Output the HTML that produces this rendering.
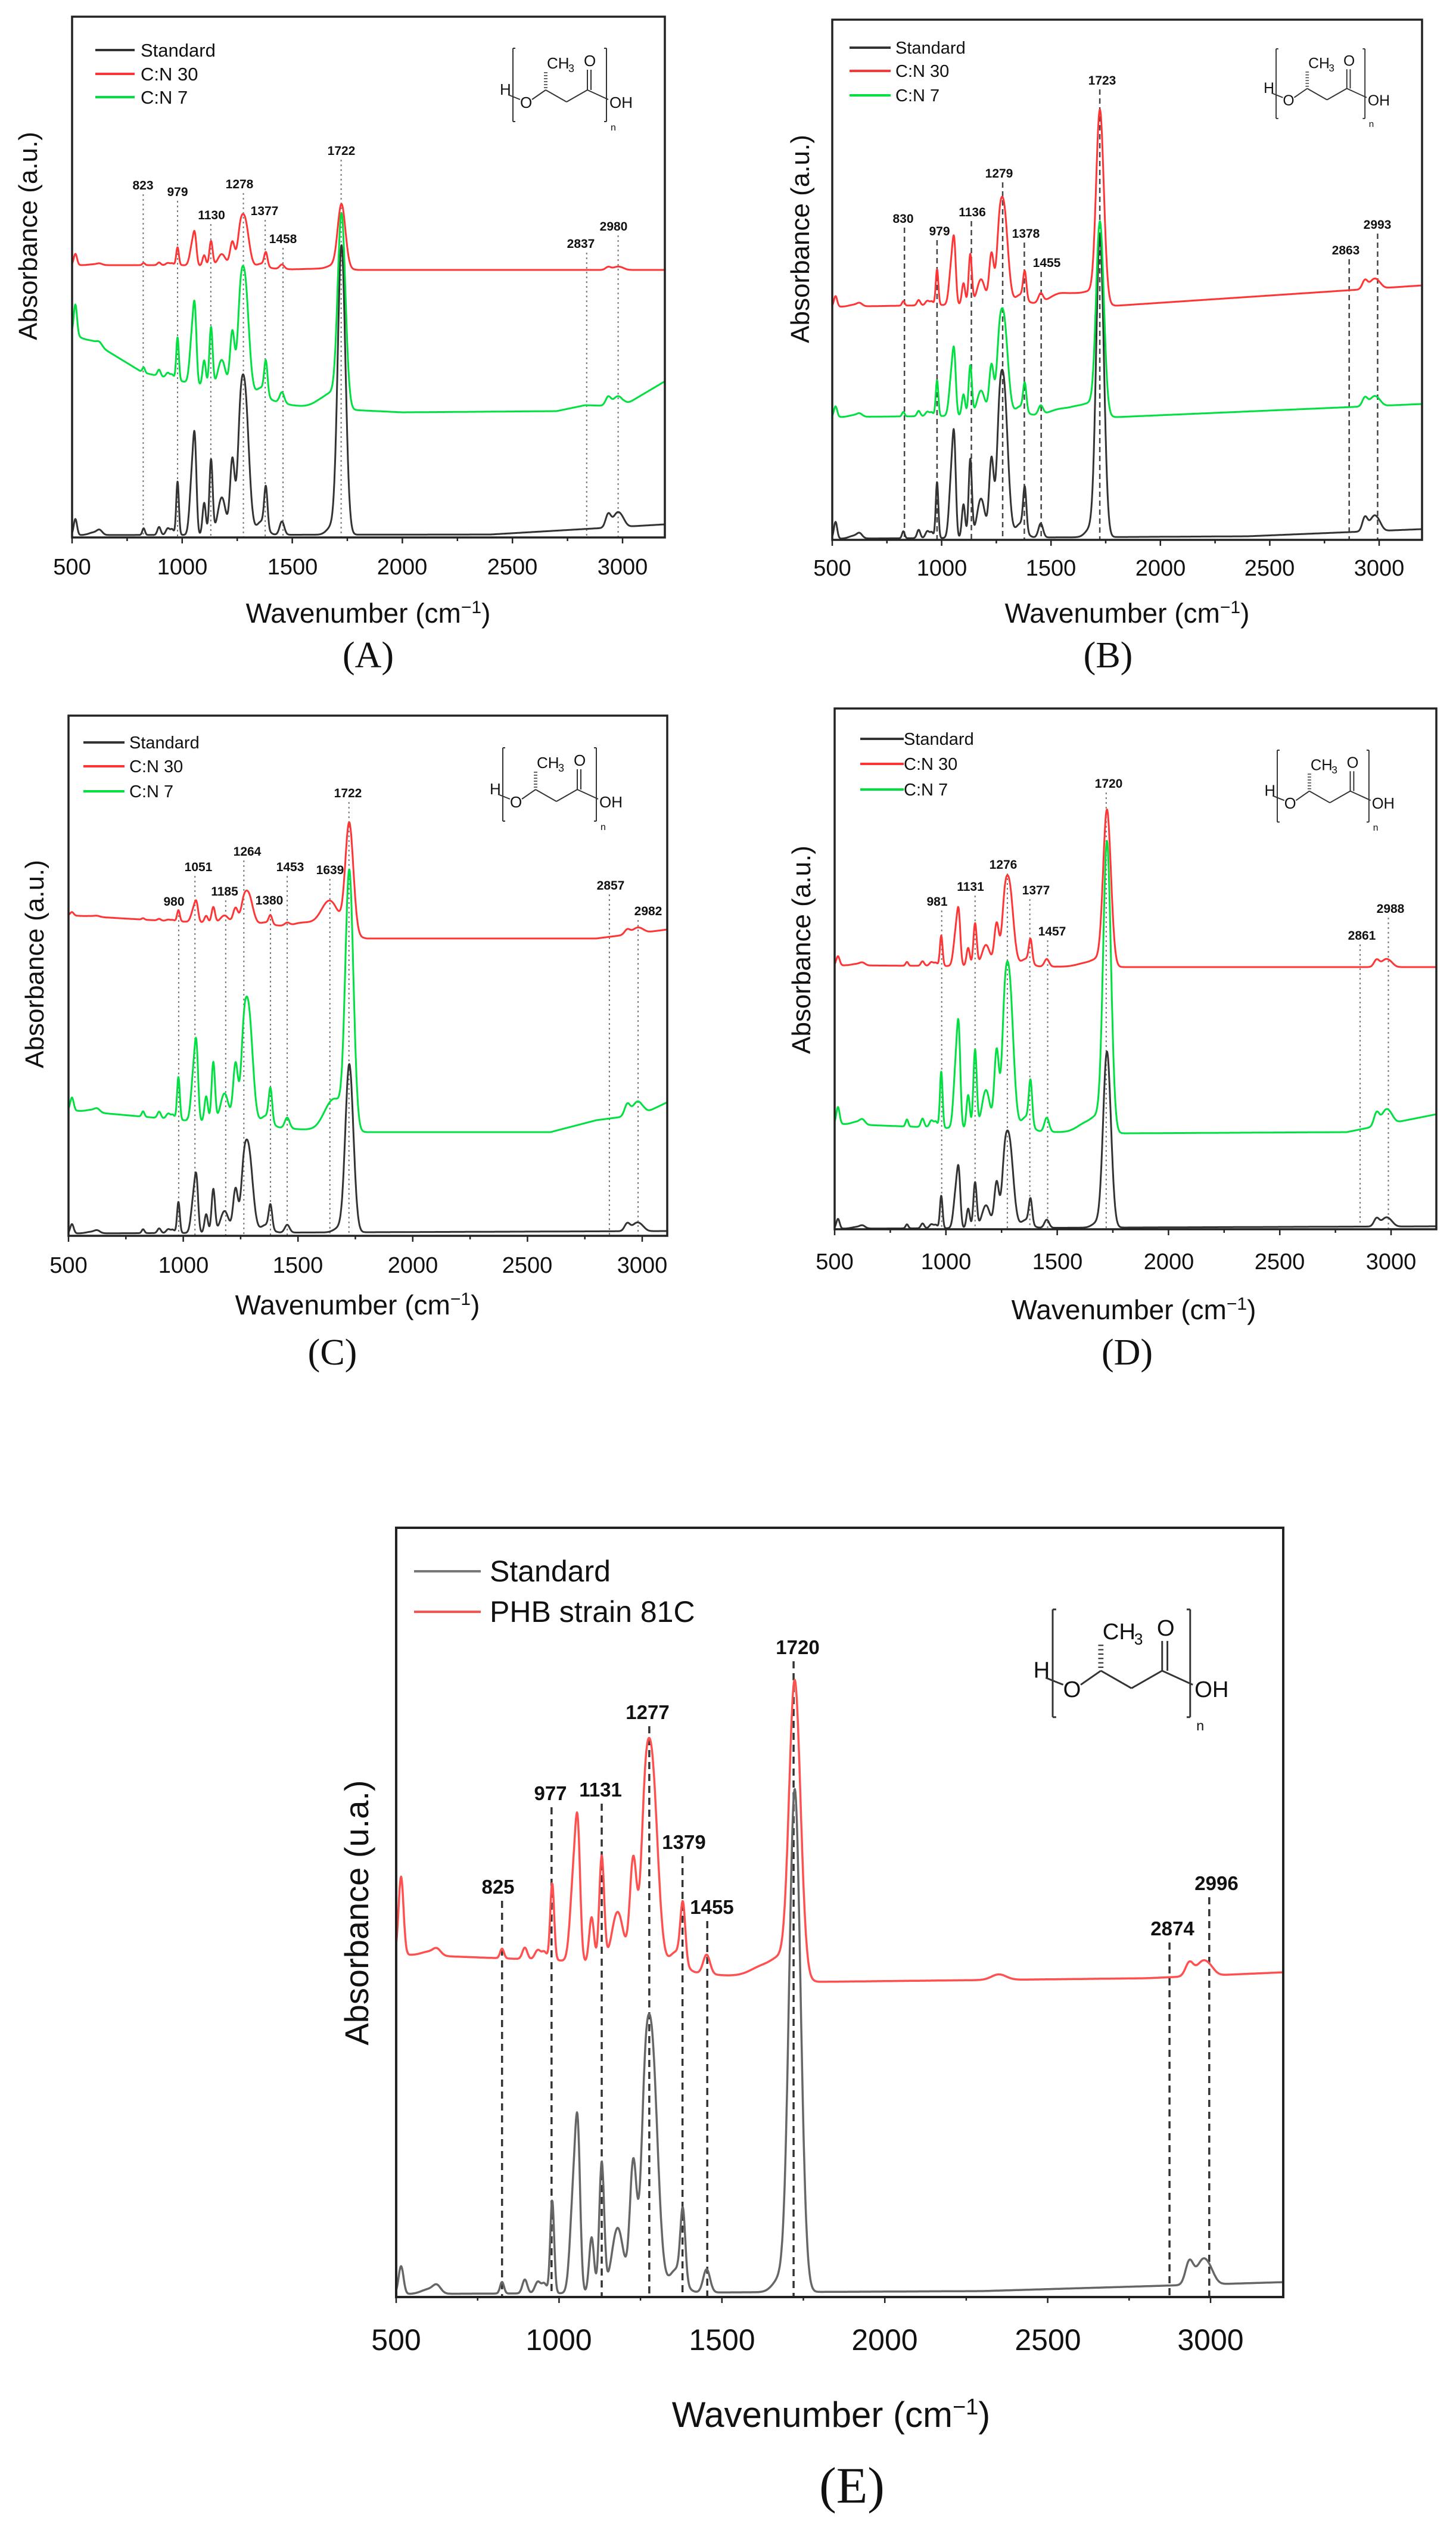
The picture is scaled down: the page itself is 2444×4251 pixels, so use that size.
<!DOCTYPE html>
<html><head><meta charset="utf-8"><style>
html,body{margin:0;padding:0;background:#fff}
svg{display:block}
text{font-family:"Liberation Sans",Arial,sans-serif;fill:#111}
.pl{font-weight:bold}
.cap{font-family:"Liberation Serif",serif}
</style></head><body>
<svg id="s" width="2444" height="4251" viewBox="0 0 2444 4251" xmlns="http://www.w3.org/2000/svg">
<rect width="2444" height="4251" fill="#fff"/>
<g id="plots"></g>

<!-- Panel A text -->
<g font-size="38">
<text x="121" y="964" text-anchor="middle">500</text><text x="306" y="964" text-anchor="middle">1000</text><text x="491" y="964" text-anchor="middle">1500</text><text x="675" y="964" text-anchor="middle">2000</text><text x="860" y="964" text-anchor="middle">2500</text><text x="1045" y="964" text-anchor="middle">3000</text>
</g>
<text x="618" y="1045" font-size="46" text-anchor="middle">Wavenumber (cm<tspan baseline-shift="super" font-size="30">−1</tspan>)</text>
<text x="47" y="396" font-size="44" text-anchor="middle" transform="rotate(-90 47 396)" dy="15">Absorbance (a.u.)</text>
<text class="cap" x="618" y="1120" font-size="62" text-anchor="middle">(A)</text>
<g font-size="31"><text x="236" y="95">Standard</text><text x="236" y="135">C:N 30</text><text x="236" y="174">C:N 7</text></g>
<g font-size="21" class="pl" text-anchor="middle">
<text x="240" y="318">823</text><text x="298" y="329">979</text><text x="355" y="368">1130</text><text x="402" y="316">1278</text><text x="444" y="361">1377</text><text x="475" y="408">1458</text><text x="573" y="260">1722</text><text x="975" y="416">2837</text><text x="1030" y="387">2980</text>
</g>

<!-- Panel B text -->
<g font-size="38">
<text x="1397" y="966" text-anchor="middle">500</text><text x="1581" y="966" text-anchor="middle">1000</text><text x="1764" y="966" text-anchor="middle">1500</text><text x="1948" y="966" text-anchor="middle">2000</text><text x="2131" y="966" text-anchor="middle">2500</text><text x="2315" y="966" text-anchor="middle">3000</text>
</g>
<text x="1892" y="1045" font-size="46" text-anchor="middle">Wavenumber (cm<tspan baseline-shift="super" font-size="30">−1</tspan>)</text>
<text x="1343" y="401" font-size="44" text-anchor="middle" transform="rotate(-90 1343 401)" dy="15">Absorbance (a.u.)</text>
<text class="cap" x="1860" y="1120" font-size="62" text-anchor="middle">(B)</text>
<g font-size="29"><text x="1503" y="90">Standard</text><text x="1503" y="129">C:N 30</text><text x="1503" y="170">C:N 7</text></g>
<g font-size="21" class="pl" text-anchor="middle">
<text x="1516" y="374">830</text><text x="1577" y="395">979</text><text x="1632" y="363">1136</text><text x="1677" y="298">1279</text><text x="1722" y="399">1378</text><text x="1757" y="448">1455</text><text x="1850" y="142">1723</text><text x="2259" y="427">2863</text><text x="2312" y="384">2993</text>
</g>

<!-- Panel C text -->
<g font-size="38">
<text x="115" y="2136" text-anchor="middle">500</text><text x="308" y="2136" text-anchor="middle">1000</text><text x="500" y="2136" text-anchor="middle">1500</text><text x="693" y="2136" text-anchor="middle">2000</text><text x="885" y="2136" text-anchor="middle">2500</text><text x="1078" y="2136" text-anchor="middle">3000</text>
</g>
<text x="600" y="2206" font-size="46" text-anchor="middle">Wavenumber (cm<tspan baseline-shift="super" font-size="30">−1</tspan>)</text>
<text x="58" y="1618" font-size="44" text-anchor="middle" transform="rotate(-90 58 1618)" dy="15">Absorbance (a.u.)</text>
<text class="cap" x="558" y="2290" font-size="62" text-anchor="middle">(C)</text>
<g font-size="29"><text x="217" y="1256">Standard</text><text x="217" y="1296">C:N 30</text><text x="217" y="1338">C:N 7</text></g>
<g font-size="21" class="pl" text-anchor="middle">
<text x="292" y="1520">980</text><text x="333" y="1462">1051</text><text x="377" y="1503">1185</text><text x="415" y="1436">1264</text><text x="452" y="1518">1380</text><text x="487" y="1462">1453</text><text x="554" y="1467">1639</text><text x="584" y="1338">1722</text><text x="1025" y="1493">2857</text><text x="1088" y="1536">2982</text>
</g>

<!-- Panel D text -->
<g font-size="38">
<text x="1401" y="2130" text-anchor="middle">500</text><text x="1588" y="2130" text-anchor="middle">1000</text><text x="1775" y="2130" text-anchor="middle">1500</text><text x="1962" y="2130" text-anchor="middle">2000</text><text x="2148" y="2130" text-anchor="middle">2500</text><text x="2335" y="2130" text-anchor="middle">3000</text>
</g>
<text x="1903" y="2214" font-size="46" text-anchor="middle">Wavenumber (cm<tspan baseline-shift="super" font-size="30">−1</tspan>)</text>
<text x="1345" y="1594" font-size="44" text-anchor="middle" transform="rotate(-90 1345 1594)" dy="15">Absorbance (a.u.)</text>
<text class="cap" x="1892" y="2290" font-size="62" text-anchor="middle">(D)</text>
<g font-size="29"><text x="1517" y="1250">Standard</text><text x="1517" y="1292">C:N 30</text><text x="1517" y="1335">C:N 7</text></g>
<g font-size="21" class="pl" text-anchor="middle">
<text x="1573" y="1520">981</text><text x="1629" y="1495">1131</text><text x="1684" y="1458">1276</text><text x="1739" y="1501">1377</text><text x="1766" y="1570">1457</text><text x="1861" y="1322">1720</text><text x="2286" y="1577">2861</text><text x="2334" y="1532">2988</text>
</g>

<!-- Panel E text -->
<g font-size="50">
<text x="665" y="3944" text-anchor="middle">500</text><text x="938" y="3944" text-anchor="middle">1000</text><text x="1212" y="3944" text-anchor="middle">1500</text><text x="1485" y="3944" text-anchor="middle">2000</text><text x="1759" y="3944" text-anchor="middle">2500</text><text x="2032" y="3944" text-anchor="middle">3000</text>
</g>
<text x="1395" y="4073" font-size="60" text-anchor="middle">Wavenumber (cm<tspan baseline-shift="super" font-size="38">−1</tspan>)</text>
<text x="598" y="3210" font-size="56" text-anchor="middle" transform="rotate(-90 598 3210)" dy="20">Absorbance (u.a.)</text>
<text class="cap" x="1430" y="4200" font-size="86" text-anchor="middle">(E)</text>
<g font-size="50"><text x="822" y="2654">Standard</text><text x="822" y="2722">PHB strain 81C</text></g>
<g font-size="33" class="pl" text-anchor="middle">
<text x="836" y="3178">825</text><text x="924" y="3021">977</text><text x="1008" y="3015">1131</text><text x="1087" y="2885">1277</text><text x="1148" y="3103">1379</text><text x="1195" y="3212">1455</text><text x="1339" y="2776">1720</text><text x="1968" y="3248">2874</text><text x="2042" y="3172">2996</text>
</g>

<!-- structures -->
<g id="structs"></g>
</svg>
<script>
(function(){
var NS="http://www.w3.org/2000/svg";
var plots=document.getElementById('plots');
function el(tag,attrs,parent){var e=document.createElementNS(NS,tag);for(var k in attrs)e.setAttribute(k,attrs[k]);(parent||plots).appendChild(e);return e;}
var STD=[[515,.06,5],[600,.01,15],[625,.015,8],[825,.025,4],[895,.03,5],[935,.025,6],[955,.02,5],[979,.2,4],[1045,.22,7],[1058,.27,5],[1100,.12,5],[1131,.28,5],[1180,.14,12],[1228,.28,7],[1262,.3,8],[1282,.44,10],[1300,.15,10],[1360,.05,15],[1380,.15,5],[1453,.05,7],[1680,.03,15],[1722,1,11],[1740,.15,10],[2935,.05,8],[2975,.05,12],[3000,.02,10]];
function interp(pts,w){if(w<=pts[0][0])return pts[0][1];for(var i=1;i<pts.length;i++){if(w<=pts[i][0]){var a=pts[i-1],b=pts[i];return a[1]+(b[1]-a[1])*(w-a[0])/(b[0]-a[0]);}}return pts[pts.length-1][1];}
function series(P,base,s,m,extra,color,sw){
 var pk=STD.concat(extra||[]);var d="";
 for(var w=500;w<=P.xmax;w+=1.5){
  var v=0;for(var i=0;i<pk.length;i++){var p=pk[i];var z=(w-p[0])/(p[2]*1.5);if(Math.abs(z)<6){var h=p[1];if(p[0]<1700&&i<STD.length)h*=m;v+=h*Math.exp(-z*z/2);}}
  var y=interp(base,w)-v*s;var x=P.x0+(w-500)*P.k;
  d+=(d?"L":"M")+x.toFixed(1)+" "+y.toFixed(1);
 }
 el('path',{d:d,fill:'none',stroke:color,'stroke-width':sw||3,'stroke-linejoin':'round'});
}
function frame(P){
 el('rect',{x:P.x0,y:P.top,width:P.x1-P.x0,height:P.bot-P.top,fill:'none',stroke:'#222','stroke-width':P.bw||3.5});
 for(var w=500;w<=P.xmax;w+=250){var x=P.x0+(w-500)*P.k;var L=(w%500==0)?10:6;el('line',{x1:x,x2:x,y1:P.bot,y2:P.bot+L,stroke:'#222','stroke-width':2.5});}
}
function vlines(P,list,dash,color,sw){list.forEach(function(a){var x=P.x0+(a[0]-500)*P.k;el('line',{x1:x,x2:x,y1:a[1],y2:P.bot,stroke:color,'stroke-width':sw,'stroke-dasharray':dash});});}
function legend(x1,x2,ys,cols,sw){ys.forEach(function(y,i){el('line',{x1:x1,x2:x2,y1:y,y2:y,stroke:cols[i],'stroke-width':sw});});}
var BK='#333',RD='#ff3535',GR='#00e040';
var A={x0:121,x1:1116,top:28,bot:902,k:0.3696,xmax:3192};
vlines(A,[[823,326],[979,337],[1130,376],[1278,324],[1377,369],[1458,416],[1722,268],[2837,424],[2980,395]],'3 5','#777',2);
series(A,[[500,898],[2400,897],[3192,880]],449,1,[],BK);
series(A,[[500,560],[620,580],[820,625],[1000,640],[1500,680],[1600,685],[2000,692],[2700,690],[2830,680],[3000,682],[3192,640]],300,1.2,[[515,.1,5],[1650,.06,30]],GR);
series(A,[[500,445],[1000,445],[1500,452],[1700,450],[1800,453],[3192,453]],100,1.5,[[515,.1,5]],RD);
frame(A);legend(160,226,[84,124,163],[BK,RD,GR],4);
var B={x0:1397,x1:2387,top:33,bot:906,k:0.3672,xmax:3196};
vlines(B,[[830,382],[979,403],[1136,371],[1279,306],[1378,407],[1455,456],[1723,150],[2863,435],[2993,392]],'9 6','#444',2.5);
series(B,[[500,904],[2400,900],[3196,888]],470,1,[],BK);
series(B,[[500,700],[1600,696],[1800,700],[3196,678]],300,1,[[1540,.03,30],[1640,.05,30]],GR);
series(B,[[500,515],[1600,508],[1800,513],[3196,479]],300,1,[[1540,.05,30],[1640,.05,30]],RD);
frame(B);legend(1426,1495,[80,119,160],[BK,RD,GR],4);
var C={x0:115,x1:1120,top:1201,bot:2074,k:0.3852,xmax:3108};
vlines(C,[[980,1528],[1051,1470],[1185,1511],[1264,1444],[1380,1526],[1453,1470],[1639,1475],[1722,1346],[2857,1501],[2982,1544]],'3 5','#777',2);
series(C,[[500,2070],[3108,2066]],261,1,[],BK);
series(C,[[500,1863],[1000,1880],[1500,1895],[1800,1900],[2600,1900],[2800,1880],[3000,1870],[3108,1850]],400,0.9,[[1650,.12,25]],GR);
series(C,[[500,1536],[900,1545],[1500,1555],[1800,1575],[2800,1575],[3108,1560]],172,0.55,[[1639,.3,25],[1540,.05,30]],RD);
frame(C);legend(140,209,[1246,1286,1328],[BK,RD,GR],4);
var D={x0:1401,x1:2411,top:1189,bot:2063,k:0.3736,xmax:3203};
vlines(D,[[981,1528],[1131,1503],[1276,1466],[1377,1509],[1457,1578],[1720,1330],[2861,1585],[2988,1540]],'3 5','#777',2);
series(D,[[500,2062],[3203,2058]],273,1,[],BK);
series(D,[[500,1886],[1500,1900],[1800,1902],[2800,1900],[3203,1870]],450,1.05,[[1640,.04,30]],GR);
series(D,[[500,1620],[1800,1623],[3203,1623]],243,1.05,[[1640,.03,30]],RD);
frame(D);legend(1444,1517,[1240,1282,1325],[BK,RD,GR],4);
var E={x0:665,x1:2154,top:2564,bot:3855,k:0.5468,xmax:3224,bw:4};
vlines(E,[[825,3190],[977,3033],[1131,3027],[1277,2897],[1379,3115],[1455,3224],[1720,2788],[2874,3260],[2996,3184]],'12 8','#333',3.5);
series(E,[[500,3850],[2300,3845],[3224,3830]],780,1,[],'#666',3.5);
series(E,[[500,3280],[1000,3290],[1500,3315],[1800,3326],[2800,3320],[3224,3310]],461,1.4,[[515,.2,5],[1640,.05,30],[2350,.02,15]],'#ff5050',3.5);
frame(E);legend(695,807,[2637,2705],['#777','#ff5050'],4);
var st=document.getElementById('structs');
function struct(x,y,s){
 var g=el('g',{transform:'translate('+x+' '+y+') scale('+s+')'},st);
 var L=function(a,b,c,d,w){el('line',{x1:a,y1:b,x2:c,y2:d,stroke:'#333','stroke-width':w||2},g);};
 L(4,0,0,0);L(0,0,0,123);L(0,123,4,123);
 L(153,0,157,0);L(157,0,157,123);L(153,123,157,123);
 L(-8,78,12,86);L(32,86,55,70);L(55,70,90,90);L(90,90,125,70);L(125,70,125,36);L(131,70,131,36);L(125,70,160,86);
 for(var i=0;i<6;i++){L(52,66-i*5,58,66-i*5,1.5);}
 var T=function(tx,ty,t,fs){var e=el('text',{x:tx,y:ty,'font-size':fs||26},g);e.textContent=t;};
 T(-22,78,'H');T(12,100,'O');T(57,34,'CH');T(93,40,'3',18);T(119,30,'O');T(162,100,'OH');T(164,138,'n',16);
}
struct(861,81,1);struct(2142,82,0.95);struct(844,1255,1);struct(2144,1259,0.98);struct(1767,2701,1.47);
})();
</script>
</body></html>
